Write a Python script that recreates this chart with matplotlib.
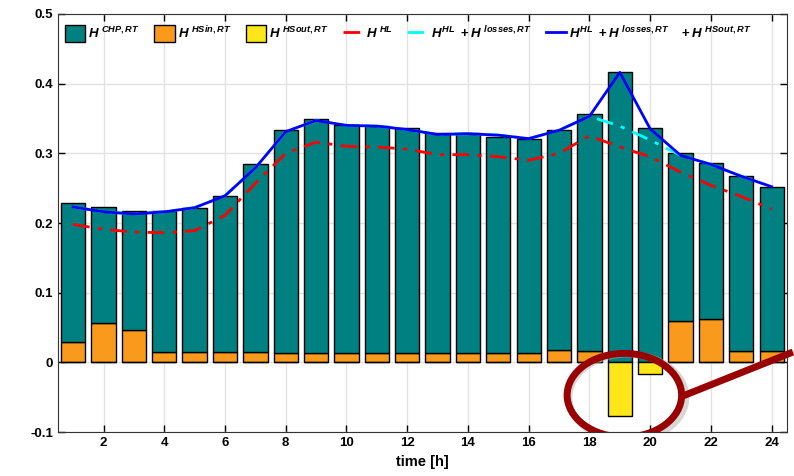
import numpy as np
import matplotlib.pyplot as plt
from matplotlib.patches import Ellipse
from matplotlib.lines import Line2D

plt.rcParams['font.family'] = 'Liberation Sans'
plt.rcParams['font.weight'] = 'bold'
plt.rcParams['mathtext.fontset'] = 'custom'
plt.rcParams['mathtext.it'] = 'Liberation Sans:italic:bold'
plt.rcParams['mathtext.rm'] = 'Liberation Sans:bold'
plt.rcParams['mathtext.bf'] = 'Liberation Sans:bold'

#-------- heat balance per hour --------#
hours = np.arange(1, 25)
# total heat supplied (CHP + heat storage discharge) [MW]
h_total = [0.229, 0.223, 0.217, 0.217, 0.222, 0.239, 0.284, 0.334, 0.349, 0.341, 0.339, 0.336,
           0.329, 0.329, 0.323, 0.320, 0.333, 0.356, 0.416, 0.336, 0.301, 0.286, 0.267, 0.251]
# heat storage discharge
h_sin = [0.030, 0.056, 0.046, 0.015, 0.015, 0.015, 0.015, 0.014, 0.014, 0.014, 0.014, 0.014,
         0.014, 0.014, 0.014, 0.014, 0.018, 0.017, 0.0, 0.0, 0.060, 0.063, 0.016, 0.016]
# heat storage charge (negative)
h_sout = [0, 0, 0, 0, 0, 0, 0, 0, 0, 0, 0, 0,
          0, 0, 0, 0, 0, 0, -0.077, -0.016, 0, 0, 0, 0]
# heat load
h_hl = [0.198, 0.191, 0.187, 0.186, 0.189, 0.211, 0.257, 0.300, 0.316, 0.310, 0.309, 0.306,
        0.298, 0.298, 0.295, 0.290, 0.300, 0.325, 0.309, 0.295, 0.273, 0.254, 0.238, 0.220]
# heat load + losses
h_hl_loss = [0.223, 0.216, 0.213, 0.216, 0.222, 0.239, 0.279, 0.331, 0.347, 0.340, 0.339, 0.334,
             0.327, 0.328, 0.326, 0.321, 0.333, 0.353, 0.339, 0.319, 0.297, 0.284, 0.267, 0.252]

h_chp = np.array(h_total) - np.array(h_sin)
h_blue = np.array(h_hl_loss) - np.array(h_sout)

teal = '#008080'
orange = '#F99A1C'
yellow = '#FFE619'
dashdot = (0, (6, 3, 1.5, 3))

fig = plt.figure(figsize=(7.94, 4.76), dpi=100)
ax = fig.add_axes([0.073, 0.092, 0.918, 0.879])

w = 0.8
ax.bar(hours, h_sin, w, color=orange, edgecolor='black', lw=1, zorder=2)
ax.bar(hours, h_chp, w, bottom=h_sin, color=teal, edgecolor='black', lw=1, zorder=2)
ax.bar(hours, h_sout, w, color=yellow, edgecolor='black', lw=1, zorder=2)

ax.plot(hours, h_hl, color='red', ls=dashdot, lw=2, zorder=3)
ax.plot(hours, h_hl_loss, color='cyan', ls=dashdot, lw=2, zorder=3)
ax.plot(hours, h_blue, color='blue', lw=2, zorder=4)

ax.set_xlim(0.5, 24.5)
ax.set_ylim(-0.1, 0.5)
ax.set_xticks(np.arange(2, 25, 2))
ax.set_yticks([-0.1, 0, 0.1, 0.2, 0.3, 0.4, 0.5])
ax.set_yticklabels(['-0.1', '0', '0.1', '0.2', '0.3', '0.4', '0.5'])
ax.tick_params(direction='in', top=True, right=True, labelsize=9.5, length=5, width=1)
ax.grid(True, color='#e2e2e2', lw=1, zorder=0)
ax.set_axisbelow(True)
for s in ax.spines.values():
    s.set_color('#333333')
ax.set_xlabel('time [h]', fontsize=10.5, fontweight='bold', labelpad=4)

handles = [
    plt.Rectangle((0, 0), 1, 1, fc=teal, ec='black'),
    plt.Rectangle((0, 0), 1, 1, fc=orange, ec='black'),
    plt.Rectangle((0, 0), 1, 1, fc=yellow, ec='black'),
    Line2D([], [], color='red', ls=dashdot, lw=2),
    Line2D([], [], color='cyan', ls=dashdot, lw=2),
    Line2D([], [], color='blue', lw=2),
]
labels = [r'$H^{\ CHP,RT}$', r'$H^{\ HSin,RT}$', r'$H^{\ HSout,RT}$', r'$H^{\ HL}$',
          r'$H^{HL}\ +H^{\ losses,RT}$', r'$H^{HL}\ +H^{\ losses,RT}\quad+H^{\ HSout,RT}$']
ax.legend(handles, labels, loc='upper left', ncol=6, frameon=False, fontsize=9.5,
          handlelength=1.55, handleheight=1.55, handletextpad=0.2, columnspacing=1.1,
          bbox_to_anchor=(-0.005, 1.0), borderaxespad=0.4)

# highlight of the storage charging hours
ax.add_patch(Ellipse((19.25, -0.05), 3.85, 0.124, fill=False, ec='#b0b0b0', lw=5, alpha=0.5,
                     zorder=5))
ax.add_patch(Ellipse((19.15, -0.047), 3.77, 0.12, fill=False, ec='#990000', lw=5, zorder=6))
ax.plot([21.02, 24.7], [-0.049, 0.015], color='#990000', lw=5, solid_capstyle='butt',
        clip_on=False, zorder=6)

fig.savefig('out.png', dpi=100)
